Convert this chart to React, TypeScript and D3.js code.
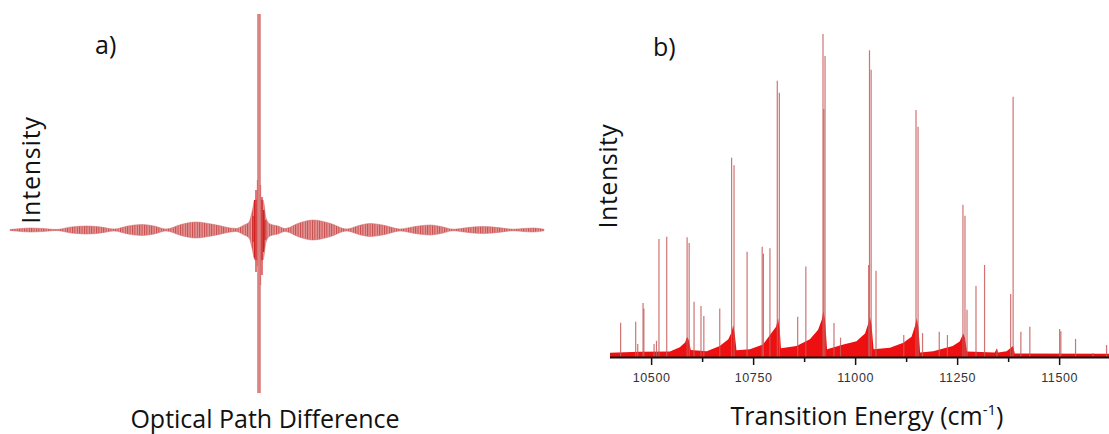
import React from "react";
import * as d3 from "d3";

// ---------- Panel a) interferogram ----------
// envelope of the fringe pattern (optical path difference, arbitrary units; amplitude, arbitrary units)
const envOPD = [-249, -238, -229, -216, -203, -188, -172, -158, -145, -131, -117, -105, -93, -78, -63, -45, -23, -15, -10, -7, -4, 4, 7, 11, 19, 26, 40, 54, 70, 88, 100, 111, 126, 141, 156, 171, 182, 194, 209, 224, 239, 254, 264, 274, 285];
const envAmp = [0.5, 1.5, 2, 1.5, 0.5, 3, 4, 3, 1, 4, 5.5, 4, 1, 5.5, 8, 5.5, 1.5, 5, 8, 18, 30, 30, 12, 6, 4, 1.5, 7, 10, 7, 1, 4.5, 6.5, 4.5, 1, 3.5, 5, 3.5, 0.8, 2.5, 3.5, 2.5, 0.8, 1.5, 2, 0.8];
// centre burst fringes
const burstOPD = [-6, -4.5, -3, -1.5, 1.5, 3, 4.5, 6];
const burstHi = [14, 30, 40, 50, 45, 33, 20, 10];
const burstLo = [-12, -28, -42, -36, -55, -45, -22, -10];
// zero path difference spike
const spikeOPD = 0;
const spikeHi = 216;
const spikeLo = -163;

// ---------- Panel b) spectrum ----------
const majorTicks = [10500, 10750, 11000, 11250, 11500];
const minorTicks = [10625, 10875, 11125, 11375];
// sharp lines: transition energy (cm-1) and relative intensity
const peakE = [10424, 10461, 10466, 10479, 10481, 10506, 10512, 10518, 10537, 10587, 10592, 10604, 10621, 10628, 10667, 10696, 10702, 10734, 10771, 10774, 10790, 10808, 10813, 10858, 10878, 10920, 10922, 10925, 10947, 10963, 11032, 11034, 11038, 11050, 11118, 11148, 11153, 11164, 11205, 11225, 11263, 11268, 11273, 11295, 11316, 11346, 11380, 11386, 11405, 11427, 11500, 11503, 11539, 11582, 11615];
const peakI = [0.106, 0.109, 0.04, 0.167, 0.15, 0.04, 0.05, 0.365, 0.372, 0.371, 0.353, 0.171, 0.158, 0.127, 0.15, 0.617, 0.594, 0.326, 0.341, 0.32, 0.337, 0.855, 0.818, 0.125, 0.28, 1.0, 0.768, 0.932, 0.105, 0.06, 0.285, 0.95, 0.889, 0.267, 0.068, 0.765, 0.713, 0.074, 0.078, 0.068, 0.471, 0.437, 0.146, 0.22, 0.285, 0.025, 0.195, 0.806, 0.078, 0.094, 0.087, 0.08, 0.056, 0.012, 0.037];
// dense band envelope (band heads)
const bandE = [10398, 10471, 10545, 10569, 10582, 10587, 10591, 10596, 10635, 10667, 10688, 10696, 10700, 10704, 10708, 10741, 10773, 10790, 10805, 10810, 10814, 10817, 10855, 10888, 10908, 10917, 10921, 10925, 10930, 10970, 11002, 11023, 11031, 11035, 11039, 11044, 11084, 11117, 11137, 11145, 11150, 11154, 11158, 11190, 11238, 11255, 11264, 11268, 11273, 11341, 11346, 11349, 11370, 11386, 11390, 11621];
const bandI = [0.013, 0.016, 0.017, 0.03, 0.045, 0.063, 0.053, 0.022, 0.018, 0.034, 0.055, 0.077, 0.099, 0.068, 0.021, 0.024, 0.039, 0.068, 0.094, 0.12, 0.084, 0.027, 0.034, 0.055, 0.084, 0.115, 0.143, 0.115, 0.024, 0.039, 0.049, 0.073, 0.104, 0.125, 0.099, 0.024, 0.029, 0.044, 0.063, 0.094, 0.121, 0.09, 0.014, 0.018, 0.034, 0.048, 0.073, 0.059, 0.017, 0.014, 0.026, 0.014, 0.018, 0.034, 0.011, 0.01];

const FONT = "'Open Sans', 'DejaVu Sans', sans-serif";

export default function App() {
  // panel a scales
  const xa = d3.scaleLinear().domain([-249, 285]).range([10, 544]);
  const ya = d3.scaleLinear().domain([-163, 216]).range([393, 14]);
  const env = envOPD.map((o, i) => ({ o, a: envAmp[i] }));
  const envArea = d3
    .area<{ o: number; a: number }>()
    .x((d) => xa(d.o))
    .y0((d) => ya(-d.a))
    .y1((d) => ya(d.a))
    .curve(d3.curveMonotoneX)(env) as string;

  // panel b scales
  const xb = d3.scaleLinear().domain([10398, 11621]).range([610, 1109]);
  const yb = d3.scaleLinear().domain([0, 1]).range([357, 34]);
  const band = bandE.map((e, i) => ({ e, v: bandI[i] }));
  const bandArea = d3
    .area<{ e: number; v: number }>()
    .x((d) => xb(d.e))
    .y0(yb(0))
    .y1((d) => yb(d.v))(band) as string;

  return (
    <svg
      width={1109}
      height={434}
      style={{ position: "absolute", left: 0, top: 0, display: "block", background: "#fff" }}
    >
      <defs>
        <pattern id="fringes" width={2.4} height={10} patternUnits="userSpaceOnUse">
          <rect width={2.4} height={10} fill="#e59a9a" />
          <rect x={0} width={1} height={10} fill="#c84a4a" />
        </pattern>
      </defs>

      {/* ---------- a) ---------- */}
      <line x1={xa(-249)} x2={xa(285)} y1={ya(0)} y2={ya(0)} stroke="#c85050" strokeWidth={0.8} />
      <path d={envArea} fill="url(#fringes)" stroke="#d06a6a" strokeWidth={0.5} />
      {burstOPD.map((o, i) => (
        <line key={i} x1={xa(o)} x2={xa(o)} y1={ya(burstHi[i])} y2={ya(burstLo[i])} stroke="#d42020" strokeWidth={1.2} />
      ))}
      <rect
        x={xa(spikeOPD) - 1.8}
        width={3.6}
        y={ya(spikeHi)}
        height={ya(spikeLo) - ya(spikeHi)}
        fill="#d98282"
      />
      <text x={95} y={54} fontFamily={FONT} fontSize={25} fill="#111">a)</text>
      <text transform="translate(40,170) rotate(-90)" textAnchor="middle" fontFamily={FONT} fontSize={25} letterSpacing={0.8} fill="#111">
        Intensity
      </text>
      <text x={265} y={428} textAnchor="middle" fontFamily={FONT} fontSize={25} fill="#111">
        Optical Path Difference
      </text>

      {/* ---------- b) ---------- */}
      <path d={bandArea} fill="#ee1010" />
      {peakE.map((e, i) => (
        <line key={i} x1={xb(e)} x2={xb(e)} y1={yb(0)} y2={yb(peakI[i])} stroke="#c85a5a" strokeWidth={1.2} strokeOpacity={0.85} />
      ))}
      <line x1={610} x2={1109} y1={yb(0) + 0.5} y2={yb(0) + 0.5} stroke="#111" strokeWidth={2} />
      {majorTicks.map((t) => (
        <g key={t}>
          <line x1={xb(t)} x2={xb(t)} y1={yb(0)} y2={yb(0) + 8} stroke="#111" strokeWidth={1.5} />
          <text x={xb(t)} y={382} textAnchor="middle" fontFamily="'Liberation Sans', Arial, sans-serif" fontSize={12.5} letterSpacing={0.6} fill="#333">
            {t}
          </text>
        </g>
      ))}
      {minorTicks.map((t) => (
        <line key={t} x1={xb(t)} x2={xb(t)} y1={yb(0)} y2={yb(0) + 5} stroke="#111" strokeWidth={1.5} />
      ))}
      <text x={653} y={56} fontFamily={FONT} fontSize={25} fill="#111">b)</text>
      <text transform="translate(617,176) rotate(-90)" textAnchor="middle" fontFamily={FONT} fontSize={25} letterSpacing={0.5} fill="#111">
        Intensity
      </text>
      <text x={867} y={425} textAnchor="middle" fontFamily={FONT} fontSize={25} fill="#111">
        Transition Energy (cm
        <tspan fontSize={15} dy={-10}>-1</tspan>
        <tspan dy={10}>)</tspan>
      </text>
    </svg>
  );
}
